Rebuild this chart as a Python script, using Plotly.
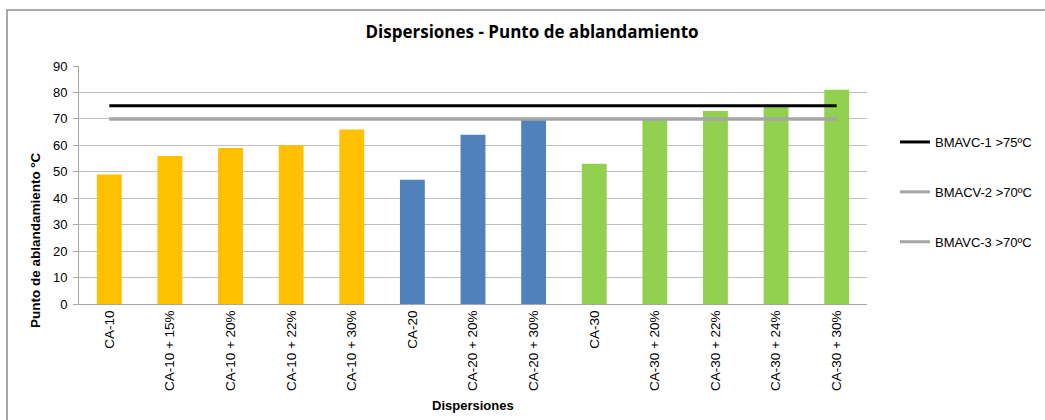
import plotly.graph_objects as go

categories = ["CA-10", "CA-10 + 15%", "CA-10 + 20%", "CA-10 + 22%", "CA-10 + 30%",
              "CA-20", "CA-20 + 20%", "CA-20 + 30%",
              "CA-30", "CA-30 + 20%", "CA-30 + 22%", "CA-30 + 24%", "CA-30 + 30%"]
values = [49, 56, 59, 60, 66, 47, 64, 70, 53, 70, 73, 75, 81]
bar_colors = ["#FFC000"] * 5 + ["#4F81BD"] * 3 + ["#92D050"] * 5

limit_names = ["BMAVC-1 >75ºC", "BMACV-2 >70ºC", "BMAVC-3 >70ºC"]
limit_values = [75, 70, 70]
limit_colors = ["#000000", "#A6A6A6", "#A6A6A6"]

yticks = [0, 10, 20, 30, 40, 50, 60, 70, 80, 90]

FONT = "Liberation Sans, Arial, sans-serif"

fig = go.Figure()
fig.add_trace(go.Bar(x=categories, y=values, marker=dict(color=bar_colors, line=dict(width=0)),
                     showlegend=False))
for i, (n, v, c) in enumerate(zip(limit_names, limit_values, limit_colors)):
    fig.add_trace(go.Scatter(x=categories, y=[v] * len(categories), mode="lines", name=n,
                             line=dict(color=c, width=3), legendgroup=str(i)))

W, H = 1045, 420
L, R, T, B = 79, W - 867, 66, H - 304
pw, ph = W - L - R, H - T - B


def px_x(p):
    return (p - L) / pw


def px_y(p):
    return (304 - p) / ph


fig.update_layout(
    width=W, height=H,
    margin=dict(l=L, r=R, t=T, b=B, autoexpand=False),
    paper_bgcolor="white", plot_bgcolor="white",
    font=dict(family=FONT, size=13, color="#000000"),
    title=dict(text="<b>Dispersiones - Punto de ablandamiento</b>", x=532 / W, xanchor="center",
               y=(H - 32) / H, yanchor="middle",
               font=dict(family="Open Sans, Arial", size=17, color="#000000")),
    bargap=0.59,
    showlegend=True,
    legend=dict(x=px_x(895), y=px_y(127), xanchor="left", yanchor="top",
                tracegroupgap=30, font=dict(size=13, color="#000000", family=FONT),
                bgcolor="rgba(0,0,0,0)", itemwidth=30),
    xaxis=dict(tickangle=-90, showgrid=False, showline=True, linecolor="#A6A6A6", linewidth=1,
               ticks="", tickfont=dict(size=13.5, color="#000000", family=FONT)),
    yaxis=dict(range=[0, 90], tickvals=yticks, showgrid=True, gridcolor="#BFBFBF", gridwidth=1,
               showline=True, linecolor="#A6A6A6", linewidth=1, ticks="outside", ticklen=5,
               tickcolor="#A6A6A6", zeroline=False, tickfont=dict(size=13, color="#000000", family=FONT),
               ticklabelstandoff=3),
    annotations=[
        dict(text="<b>Punto de ablandamiento ºC</b>", xref="paper", yref="paper",
             x=px_x(35), y=px_y(241), xanchor="center", yanchor="middle", textangle=-90,
             showarrow=False, font=dict(size=13.5, color="#000000", family=FONT)),
        dict(text="<b>Dispersiones</b>", xref="paper", yref="paper",
             x=px_x(473), y=px_y(405), xanchor="center", yanchor="middle",
             showarrow=False, font=dict(size=13, color="#000000", family=FONT)),
    ],
    shapes=[dict(type="rect", xref="paper", yref="paper",
                 x0=px_x(7), x1=px_x(W + 20),
                 y0=px_y(H + 20), y1=px_y(10),
                 line=dict(color="#8C8C8C", width=1.5), fillcolor="rgba(0,0,0,0)", layer="below")],
)

fig.write_html("out.html")
